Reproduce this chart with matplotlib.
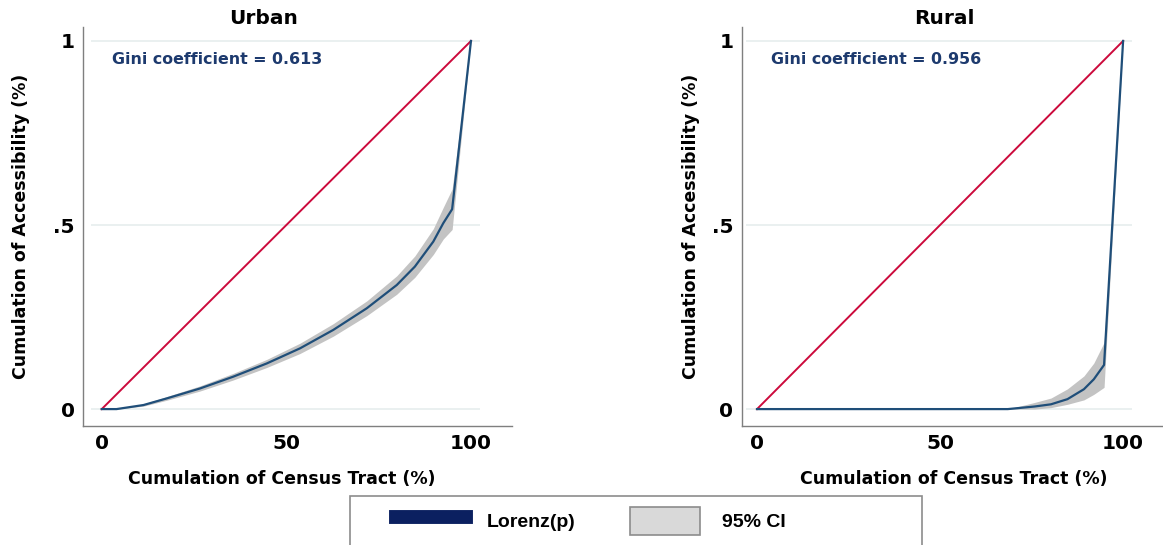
import numpy as np
import matplotlib
matplotlib.use('Agg')
import matplotlib.pyplot as plt
from matplotlib.lines import Line2D
from matplotlib.patches import Patch, Rectangle

# Urban Lorenz curve (x in %, y cumulative share) with 95% CI
urban_x = [0, 4, 11.3, 17.6, 26.6, 35.6, 44.7, 53.7, 62.7, 71.8, 79.9, 84.8, 89.8, 92.5, 94.9, 100]
urban_y = [0, 0, 0.011, 0.029, 0.056, 0.088, 0.124, 0.165, 0.215, 0.274, 0.337, 0.387, 0.455, 0.505, 0.543, 1.0]
urban_lo = [0, 0, 0.008, 0.024, 0.049, 0.079, 0.113, 0.151, 0.198, 0.254, 0.312, 0.358, 0.420, 0.462, 0.488, 1.0]
urban_hi = [0, 0, 0.014, 0.034, 0.063, 0.097, 0.135, 0.179, 0.232, 0.294, 0.362, 0.416, 0.490, 0.548, 0.598, 1.0]

# Rural Lorenz curve
rural_x = [0, 68.5, 75.8, 80.3, 84.8, 89.3, 92.0, 94.8, 100]
rural_y = [0, 0, 0.007, 0.013, 0.027, 0.054, 0.081, 0.12, 1.0]
rural_lo = [0, 0, 0.0, 0.004, 0.013, 0.025, 0.040, 0.059, 1.0]
rural_hi = [0, 0, 0.018, 0.030, 0.055, 0.090, 0.125, 0.181, 1.0]

titles = ['Urban', 'Rural']
gini = [0.613, 0.956]

navy = '#1f4e79'
fig = plt.figure(figsize=(11.63, 5.45), dpi=100)
ax1 = fig.add_axes([0.0714, 0.2183, 0.3688, 0.7322])
ax2 = fig.add_axes([0.6377, 0.2183, 0.3623, 0.7322])

fnt = 'DejaVu Sans'
for ax, t, g, x, y, lo, hi, xl, gx, tx, lx, ly in [
        (ax1, titles[0], gini[0], urban_x, urban_y, urban_lo, urban_hi, (-5.06, 111.1), 2.8, 0.422, 0.464, -0.1235),
        (ax2, titles[1], gini[1], rural_x, rural_y, rural_lo, rural_hi, (-4.2, 110.9), 3.9, 0.48, 0.504, -0.099)]:
    ax.hlines([0, 0.5, 1], -3, 102.5, color='#e6eeee', lw=1.2, zorder=0)
    ax.fill_between(x, lo, hi, color='#c3c3c3', lw=0, zorder=1)
    ax.plot([0, 100], [0, 1], color='#cc0a3c', lw=1.4, zorder=2)
    ax.plot(x, y, color=navy, lw=1.6, zorder=3)
    ax.set_xlim(*xl)
    ax.set_ylim(-0.046, 1.038)
    ax.set_xticks([0, 50, 100])
    ax.set_xticklabels(['0', '50', '100'])
    ax.set_yticks([0, 0.5, 1])
    ax.set_yticklabels(['0', '.5', '1'])
    ax.tick_params(axis='x', length=0, labelsize=14.5, pad=6)
    ax.tick_params(axis='y', length=0, labelsize=14.5, pad=6)
    for lab in ax.get_xticklabels() + ax.get_yticklabels():
        lab.set_fontweight('bold')
        lab.set_family(fnt)
    for s in ['top', 'right']:
        ax.spines[s].set_visible(False)
    for s in ['left', 'bottom']:
        ax.spines[s].set_color('#7f7f7f')
        ax.spines[s].set_linewidth(1)
    ax.text(tx, 0.998, t, transform=ax.transAxes, fontsize=14.5, fontweight='bold',
            family=fnt, ha='center', va='bottom')
    ax.set_xlabel('Cumulation of Census Tract (%)', fontsize=12.5, fontweight='bold', family=fnt)
    ax.xaxis.set_label_coords(lx, -0.11)
    ax.set_ylabel('Cumulation of Accessibility (%)', fontsize=12.5, fontweight='bold', family=fnt)
    ax.yaxis.set_label_coords(ly, 0.5)
    ax.text(gx, 0.951, 'Gini coefficient = %.3f' % g, color='#1d3a6e', fontsize=11.4,
            fontweight='bold', family=fnt, va='center', ha='left')

# legend frame drawn separately so it can be wider than the entries
fig.patches.append(Rectangle((350 / 1163, -0.05), 572 / 1163, 0.05 + 49 / 545,
                             transform=fig.transFigure, fill=False,
                             edgecolor='#8c8c8c', lw=1.2))
handles = [Line2D([0], [0], color='#0b2060', lw=10),
           Patch(facecolor='#d9d9d9', edgecolor='#8c8c8c', lw=1.2)]
leg = fig.legend(handles, ['Lorenz(p)', '95% CI'], loc='center left',
                 bbox_to_anchor=(388 / 1163, 1 - 521 / 545), ncol=2, frameon=False,
                 prop={'family': 'Liberation Sans', 'weight': 'bold', 'size': 14},
                 handlelength=3.6, handleheight=1.9, columnspacing=2.8, handletextpad=1.1,
                 borderaxespad=0)

fig.savefig('out.png', dpi=100)
